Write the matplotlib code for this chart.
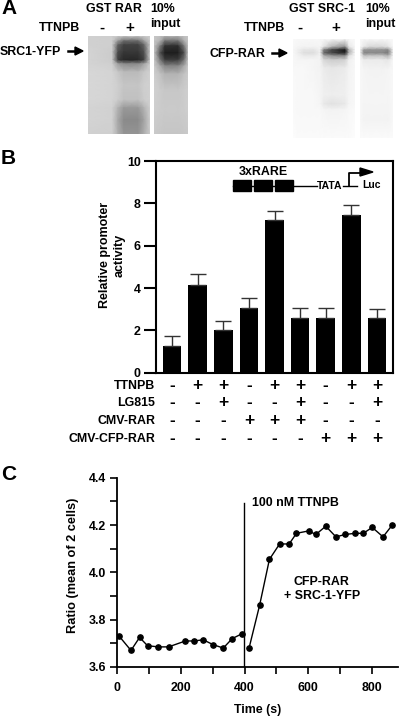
import numpy as np
import matplotlib
matplotlib.use("Agg")
import matplotlib.pyplot as plt

plt.rcParams["font.family"] = ["Liberation Sans", "DejaVu Sans"]
plt.rcParams["font.weight"] = "bold"
plt.rcParams["axes.labelweight"] = "bold"
plt.rcParams["font.size"] = 8.9

W, H = 400, 717

# ---- Panel A: gel darkness on uneven grids (image pixels)
rar_x = [88, 112, 118, 124, 138, 144, 150]
rar_y = [36, 41, 45, 52, 60, 64, 72, 85, 100, 108, 120, 134]
rar_dark = [
    [0.18, 0.19, 0.20, 0.22, 0.22, 0.20, 0.19],
    [0.18, 0.19, 0.40, 0.58, 0.58, 0.38, 0.20],
    [0.18, 0.19, 0.62, 0.74, 0.74, 0.60, 0.20],
    [0.17, 0.20, 0.70, 0.78, 0.78, 0.68, 0.20],
    [0.17, 0.20, 0.76, 0.84, 0.84, 0.74, 0.20],
    [0.17, 0.19, 0.38, 0.46, 0.46, 0.36, 0.19],
    [0.16, 0.17, 0.22, 0.27, 0.27, 0.22, 0.18],
    [0.16, 0.17, 0.19, 0.23, 0.23, 0.19, 0.18],
    [0.16, 0.17, 0.20, 0.25, 0.25, 0.20, 0.18],
    [0.17, 0.18, 0.30, 0.40, 0.40, 0.30, 0.19],
    [0.17, 0.18, 0.34, 0.46, 0.46, 0.36, 0.19],
    [0.18, 0.19, 0.32, 0.42, 0.42, 0.32, 0.20],
]
rar_input_x = [154, 160, 165, 178, 184, 188]
rar_input_y = [36, 41, 46, 53, 60, 66, 74, 90, 110, 134]
rar_input_dark = [
    [0.22, 0.24, 0.30, 0.30, 0.24, 0.22],
    [0.22, 0.30, 0.55, 0.55, 0.32, 0.22],
    [0.22, 0.50, 0.80, 0.82, 0.52, 0.23],
    [0.22, 0.68, 0.88, 0.88, 0.70, 0.23],
    [0.21, 0.52, 0.76, 0.76, 0.55, 0.22],
    [0.20, 0.34, 0.48, 0.48, 0.34, 0.21],
    [0.19, 0.24, 0.30, 0.30, 0.24, 0.20],
    [0.18, 0.20, 0.22, 0.22, 0.20, 0.19],
    [0.19, 0.20, 0.21, 0.21, 0.20, 0.19],
    [0.21, 0.22, 0.23, 0.23, 0.22, 0.21],
]
src_x = [293, 298, 304, 314, 320, 324, 332, 345, 349, 355]
src_y = [39, 47, 50, 53, 56, 60, 68, 95, 104, 110, 138]
src_dark = [
    [0.02, 0.03, 0.03, 0.03, 0.03, 0.03, 0.03, 0.03, 0.03, 0.02],
    [0.03, 0.04, 0.05, 0.05, 0.04, 0.12, 0.30, 0.45, 0.10, 0.03],
    [0.03, 0.06, 0.10, 0.10, 0.05, 0.50, 0.72, 0.90, 0.30, 0.03],
    [0.03, 0.07, 0.13, 0.13, 0.06, 0.60, 0.72, 0.86, 0.30, 0.03],
    [0.03, 0.05, 0.08, 0.08, 0.05, 0.32, 0.42, 0.45, 0.12, 0.03],
    [0.03, 0.04, 0.04, 0.04, 0.05, 0.16, 0.20, 0.18, 0.06, 0.03],
    [0.03, 0.03, 0.03, 0.04, 0.05, 0.08, 0.10, 0.08, 0.05, 0.03],
    [0.02, 0.03, 0.03, 0.03, 0.04, 0.06, 0.07, 0.06, 0.04, 0.03],
    [0.02, 0.03, 0.03, 0.03, 0.04, 0.09, 0.12, 0.09, 0.04, 0.03],
    [0.02, 0.03, 0.03, 0.03, 0.03, 0.04, 0.05, 0.04, 0.03, 0.02],
    [0.01, 0.02, 0.02, 0.02, 0.02, 0.02, 0.02, 0.02, 0.02, 0.01],
]
src_input_x = [360, 364, 370, 382, 388, 393]
src_input_y = [39, 47, 50, 53, 56, 60, 70, 100, 120, 138]
src_input_dark = [
    [0.02, 0.03, 0.03, 0.03, 0.03, 0.02],
    [0.03, 0.10, 0.16, 0.16, 0.12, 0.03],
    [0.04, 0.40, 0.42, 0.42, 0.46, 0.04],
    [0.04, 0.48, 0.46, 0.46, 0.52, 0.05],
    [0.03, 0.24, 0.22, 0.22, 0.30, 0.04],
    [0.03, 0.08, 0.08, 0.08, 0.10, 0.03],
    [0.03, 0.04, 0.05, 0.05, 0.04, 0.03],
    [0.03, 0.04, 0.04, 0.04, 0.04, 0.03],
    [0.03, 0.05, 0.05, 0.05, 0.05, 0.03],
    [0.02, 0.02, 0.02, 0.02, 0.02, 0.02],
]

# ---- Panel B
bar_values = [1.25, 4.15, 2.0, 3.05, 7.2, 2.6, 2.6, 7.45, 2.6]
bar_errors = [0.47, 0.5, 0.45, 0.5, 0.42, 0.47, 0.47, 0.47, 0.42]
treatment_names = ["TTNPB", "LG815", "CMV-RAR", "CMV-CFP-RAR"]
treatment_signs = [
    ["-", "+", "+", "-", "+", "+", "-", "+", "+"],
    ["-", "-", "+", "-", "-", "+", "-", "-", "+"],
    ["-", "-", "-", "+", "+", "+", "-", "-", "-"],
    ["-", "-", "-", "-", "-", "-", "+", "+", "+"],
]
bar_ticks = [0, 2, 4, 6, 8, 10]

# ---- Panel C
time_before = [6, 43, 70, 95, 129, 161, 214, 241, 270, 300, 333, 361, 391]
ratio_before = [3.73, 3.67, 3.725, 3.69, 3.685, 3.685, 3.71, 3.71, 3.715, 3.695, 3.68, 3.72, 3.74]
time_after = [414, 447, 478, 510, 540, 563, 601, 624, 655, 687, 716, 747, 773, 801, 835, 864]
ratio_after = [3.68, 3.86, 4.055, 4.12, 4.12, 4.165, 4.175, 4.16, 4.195, 4.15, 4.16, 4.165,
               4.165, 4.19, 4.15, 4.2]


def px_axes(fig, x0, y0, x1, y1):
    # box given in image pixels, y down
    return fig.add_axes([x0 / W, 1 - y1 / H, (x1 - x0) / W, (y1 - y0) / H])


def label(fig, x, y, text, ha="left", va="center", **kw):
    fig.text(x / W, 1 - y / H, text, ha=ha, va=va, **kw)


def gel(fig, xs, ys, data):
    ax = px_axes(fig, xs[0], ys[0], xs[-1], ys[-1])
    ax.pcolormesh(xs, ys, 1 - np.array(data), cmap="gray", vmin=0, vmax=1, shading="gouraud")
    ax.set_ylim(ys[-1], ys[0])
    ax.axis("off")


def arrow(fig, x0, x1, y):
    fig.add_artist(plt.Line2D([x0 / W, (x1 - 5) / W], [1 - y / H] * 2, color="black", lw=1.8))
    fig.add_artist(plt.Polygon(
        [[(x1 - 8) / W, 1 - (y - 4) / H], [x1 / W, 1 - y / H], [(x1 - 8) / W, 1 - (y + 4) / H]],
        closed=True, color="black", transform=fig.transFigure))


fig = plt.figure(figsize=(W / 100, H / 100), dpi=100)

# ---- A
label(fig, 1, 9, "A", fontsize=15)
gel(fig, rar_x, rar_y, rar_dark)
gel(fig, rar_input_x, rar_input_y, rar_input_dark)
gel(fig, src_x, src_y, src_dark)
gel(fig, src_input_x, src_input_y, src_input_dark)

label(fig, 86, 9, "GST RAR")
label(fig, 150, 9, "10%")
label(fig, 150, 24, "input")
label(fig, 39, 28, "TTNPB")
label(fig, 102, 28, "-", ha="center", fontsize=11)
label(fig, 130, 28, "+", ha="center", fontsize=11)
label(fig, 0, 52, "SRC1-YFP")
arrow(fig, 68, 83, 51)

label(fig, 289, 9, "GST SRC-1")
label(fig, 365, 9, "10%")
label(fig, 365, 24, "input")
label(fig, 244, 28, "TTNPB")
label(fig, 300, 28, "-", ha="center", fontsize=11)
label(fig, 336, 28, "+", ha="center", fontsize=11)
label(fig, 210, 54, "CFP-RAR")
arrow(fig, 272, 287, 53)

# ---- B
label(fig, 1, 158, "B", fontsize=15)
ax = px_axes(fig, 156, 161, 393, 372.7)
positions = np.arange(len(bar_values))
ax.bar(positions, bar_values, width=0.73, color="black",
       yerr=[np.zeros(len(bar_errors)), bar_errors], ecolor="#333333",
       error_kw=dict(lw=1, capsize=5.5, capthick=1))
ax.set_xlim(-0.63, 8.63)
ax.set_ylim(0, 10)
ax.set_xticks([])
ax.set_yticks(bar_ticks)
ax.tick_params(axis="y", length=9, width=1.5, pad=2)
for spine in ax.spines.values():
    spine.set_linewidth(1.5)
label(fig, 112, 255, "Relative promoter\nactivity", ha="center", rotation=90, fontsize=9,
      linespacing=1.25)

for row, (name, signs) in enumerate(zip(treatment_names, treatment_signs)):
    y = [386, 403, 420.5, 439][row]
    label(fig, 155.5, y, name, ha="right")
    for pos, sign in zip(positions, signs):
        px = ax.transData.transform((pos, 0))[0]
        label(fig, px, y - 0.5, sign, ha="center", fontsize=12.5)

# promoter diagram, drawn on a pixel overlay
schema = px_axes(fig, 0, 0, W, H)
schema.set_xlim(0, W)
schema.set_ylim(H, 0)
schema.axis("off")
schema.patch.set_alpha(0)
for x0 in (233, 254, 275):
    schema.add_patch(plt.Rectangle((x0, 180), 18, 11, color="black"))
schema.plot([233, 317], [185.5, 185.5], color="black", lw=1)
schema.plot([343, 357], [185.5, 185.5], color="black", lw=1)
schema.plot([349, 349, 362], [185.5, 172.5, 172.5], color="black", lw=1.3)
schema.add_patch(plt.Polygon([[360, 168], [373, 172], [360, 176]], color="black"))
schema.text(263, 172, "3xRARE", ha="center", va="center", fontsize=8.9)
schema.text(330, 186, "TATA", ha="center", va="center", fontsize=7.5)
schema.text(362, 185, "Luc", ha="left", va="center", fontsize=7.5)

# ---- C
label(fig, 1, 475, "C", fontsize=15)
ax = px_axes(fig, 117.3, 477.7, 398, 667)
ax.plot(time_before, ratio_before, "-o", color="black", lw=1, ms=3.8)
ax.plot(time_after, ratio_after, "-o", color="black", lw=1, ms=3.8)
ax.set_xlim(0, 882)
ax.set_ylim(3.6, 4.4)
ax.spines["top"].set_visible(False)
ax.spines["right"].set_visible(False)
ax.spines["left"].set_linewidth(1.3)
ax.spines["bottom"].set_linewidth(1.3)
ax.set_xticks(np.arange(0, 801, 100))
ax.set_xticklabels(["0", "", "200", "", "400", "", "600", "", "800"])
ax.set_yticks(np.arange(3.6, 4.41, 0.1))
ax.set_yticklabels(["3.6", "", "3.8", "", "4.0", "", "4.2", "", "4.4"])
ax.tick_params(length=5, width=1.2)
ax.tick_params(axis="x", pad=6)
ax.tick_params(axis="y", pad=3)
ax.set_xlabel("Time (s)", labelpad=7)
ax.set_ylabel("Ratio (mean of 2 cells)", fontsize=9.2)
ax.yaxis.set_label_coords(-0.135, 0.539)
ax.plot([399, 399], [3.6, 4.295], color="black", lw=1)
ax.text(424, 4.295, "100 nM TTNPB", ha="left", va="center")
ax.text(643, 3.93, "CFP-RAR\n+ SRC-1-YFP", ha="center", va="center", linespacing=1.3)

fig.savefig("out.png", dpi=100)
